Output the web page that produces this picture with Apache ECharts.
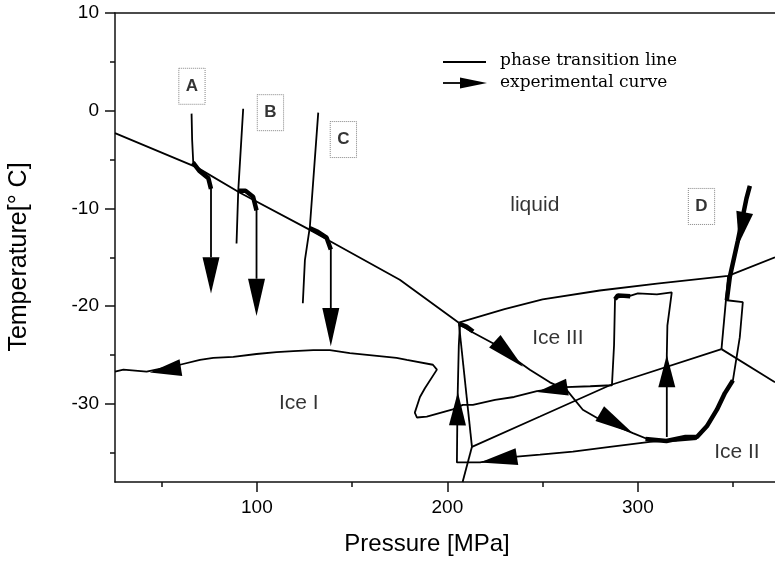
<!DOCTYPE html>
<html>
<head>
<meta charset="utf-8">
<script src="https://cdn.jsdelivr.net/npm/echarts@6/dist/echarts.min.js"></script>
<style>
html, body { margin: 0; padding: 0; background: #fff; }
#main { width: 775px; height: 561px; }
</style>
</head>
<body>
<div id="main"></div>
<script>
// axis ticks
var xMajor = [100, 200, 300];
var xMinor = [50, 150, 250, 350];
var yMajor = [-30, -20, -10, 0, 10];
var yMinor = [-35, -25, -15, -5, 5];

// phase transition lines [pressure MPa, temperature C]
var lineIceILiquid = [[25.5, -2.3], [68.5, -5.8], [91.1, -8.4], [127.8, -12.2], [175, -17.3], [206, -21.7]];
var lineIceIIILiquid = [[206, -21.7], [230, -20.3], [250, -19.3], [280, -18.4], [310, -17.7], [347.4, -16.9], [372, -15.0]];
var lineIceIIceIII = [[206, -21.7], [212.9, -34.4]];
var lineIceIIIceIII = [[212.9, -34.4], [248.6, -31.3], [285.3, -28.1], [343.9, -24.4]];
var lineIceIIceII = [[212.9, -34.4], [208, -38]];
var lineIceIIIceV = [[343.9, -24.4], [372, -27.8]];
var lineIceIIIIceV = [[343.9, -24.4], [347.4, -16.9]];

// experimental curves
var curveA = [[65.7, -0.3], [66.0, -3.0], [66.6, -5.4], [70.5, -6.3], [74.8, -7.0], [75.9, -8.0], [75.9, -15.0]];
var curveB1 = [[89.3, -13.6], [90.2, -8.2], [92.8, 0.2]];
var curveB2 = [[90.5, -8.3], [94, -8.3], [98, -8.8], [99.8, -10.0], [99.8, -17.2]];
var curveC1 = [[124.1, -19.7], [125.2, -15.3], [127.8, -11.9], [132.2, -0.2]];
var curveC2 = [[127.8, -12.0], [132, -12.4], [136.6, -13.1], [138.8, -14.2], [138.8, -20.2]];
var curveLoop = [[315.2, -33.4], [315.2, -25.0], [315.5, -22.0], [317.8, -18.6], [310, -18.8], [300, -18.7], [295, -19.0],
    [289.5, -19.1], [288, -19.3], [287.5, -24.0], [286.4, -28.1], [275, -28.2], [262.2, -28.3], [247, -28.7], [235, -29.3],
    [225, -29.6], [213.4, -30.1], [208.1, -30.1], [202.4, -30.6], [189.2, -31.3], [184, -31.4], [182.9, -30.9], [185.6, -29.3],
    [188.2, -28.4], [194.5, -26.5], [192.4, -26.0], [178.7, -25.5], [173.3, -25.3], [148.8, -24.8], [138.3, -24.5],
    [129.6, -24.5], [119.1, -24.6], [110.3, -24.7], [99.8, -24.9], [87.6, -25.2], [77.1, -25.3], [70.1, -25.5],
    [59.6, -26.0], [42.1, -26.7], [29.9, -26.5], [25.5, -26.7]];
var curveD = [[358.8, -7.7], [357, -9.0], [352.5, -13.3], [348.3, -17.0], [346.7, -19.4], [355.1, -19.6], [353.5, -23.2],
    [349.9, -27.6], [345.7, -28.9], [341.5, -30.6], [336.2, -32.3], [331, -33.5], [320, -33.7], [306.3, -33.9],
    [285.3, -34.4], [265.9, -34.9], [248.6, -35.2], [236.5, -35.4], [217.1, -36.0], [205, -36.0], [205.3, -30.0],
    [206, -24.0], [206.6, -21.9], [213.4, -22.7], [223.9, -23.8], [239.6, -26.0], [243.3, -26.5], [253.8, -27.8],
    [262.7, -28.6], [271.1, -30.6], [280, -31.6], [290, -32.4], [297.4, -33.0], [306.3, -33.7], [320, -33.8], [331, -33.6]];
// thick parts of the curves
var blobs = [
    [[66.4, -5.3], [70, -6.2], [74.5, -6.9], [75.9, -8.0]],
    [[90.3, -8.2], [94, -8.2], [98, -8.8], [99.8, -10.2]],
    [[127.6, -12.0], [132, -12.4], [136.6, -13.0], [138.8, -14.2]],
    [[206.3, -21.8], [210, -22.1], [213.5, -22.6]],
    [[304, -33.6], [315, -33.8], [325, -33.4], [331, -33.4], [336.2, -32.3], [341.5, -30.6], [345.7, -28.9], [349.9, -27.6]],
    [[288, -19.3], [289.5, -18.9], [296, -19.0]],
    [[358.8, -7.7], [357, -9.0], [352.5, -13.3], [348.3, -17.0], [346.7, -19.4]]
];
// arrow heads [base P, base T, tip P, tip T]
var arrows = [
    [75.9, -15.0, 75.9, -18.7],
    [99.8, -17.2, 99.8, -21.0],
    [138.8, -20.2, 138.8, -24.1],
    [60.1, -26.3, 43.8, -26.8],
    [315.2, -28.3, 315.2, -25.0],
    [263, -28.3, 247, -28.8],
    [205.3, -32.2, 205.5, -28.8],
    [224.9, -23.6, 239.6, -26.2],
    [280, -31.0, 297.4, -33.0],
    [236.5, -35.4, 217.1, -36.0],
    [356.1, -10.4, 353.0, -13.6]
];

var regionNames = ['liquid', 'Ice III', 'Ice I', 'Ice II'];
var regionAt = [[245.9, -9.65], [258, -23.3], [122, -29.9], [352, -35.0]];
var boxNames = ['A', 'B', 'C', 'D'];
var boxAt = [[65.9, 2.5], [107.1, -0.2], [145.4, -2.95], [333.4, -9.8]];

var font = "'Liberation Sans', Arial, sans-serif";

function lineSeries(data, width) {
    return {
        type: 'line', data: data, symbol: 'none', silent: true, animation: false,
        lineStyle: {color: '#000', width: width}
    };
}

var series = [];
[lineIceILiquid, lineIceIIILiquid, lineIceIIceIII, lineIceIIIceIII, lineIceIIceII, lineIceIIIceV, lineIceIIIIceV].forEach(function (d) {
    series.push(lineSeries(d, 1.8));
});
[curveA, curveB1, curveB2, curveC1, curveC2, curveLoop, curveD].forEach(function (d) {
    series.push(lineSeries(d, 1.8));
});
blobs.forEach(function (d) {
    series.push(lineSeries(d, 4.5));
});
// arrow heads drawn through the axes
series.push({
    type: 'custom', silent: true, animation: false,
    data: arrows,
    encode: {x: [0, 2], y: [1, 3]},
    renderItem: function (params, api) {
        var b = api.coord([api.value(0), api.value(1)]);
        var t = api.coord([api.value(2), api.value(3)]);
        var dx = t[0] - b[0], dy = t[1] - b[1];
        var len = Math.sqrt(dx * dx + dy * dy) || 1;
        var nx = -dy / len * 8.5, ny = dx / len * 8.5;
        return {
            type: 'polygon',
            shape: {points: [t, [b[0] + nx, b[1] + ny], [b[0] - nx, b[1] - ny]]},
            style: {fill: '#000'}
        };
    }
});
// phase names
series.push({
    type: 'scatter', symbolSize: 0, silent: true, animation: false,
    data: regionNames.map(function (n, i) { return {name: n, value: regionAt[i]}; }),
    label: {show: true, position: 'inside', formatter: '{b}', color: '#000', fontSize: 21, fontFamily: font}
});
// curve letters in dotted boxes
series.push({
    type: 'scatter', symbolSize: 0, silent: true, animation: false,
    data: boxNames.map(function (n, i) { return {name: n, value: boxAt[i]}; }),
    label: {
        show: true, position: 'inside', formatter: '{b}', color: '#000', fontSize: 17, fontWeight: 'bold',
        fontFamily: font, padding: [10, 7, 9, 7], borderColor: '#666', borderWidth: 1, borderType: 'dotted'
    }
});

var axisCommon = {
    type: 'value',
    splitLine: {show: false}
};

var option = {
    backgroundColor: '#fff',
    animation: false,
    grid: {left: 115, right: 0, top: 13, bottom: 79, containLabel: false, outerBoundsMode: 'none'},
    xAxis: [
        Object.assign({}, axisCommon, {
            min: 25.5, max: 372, position: 'bottom',
            axisLine: {show: true, onZero: false, lineStyle: {color: '#111', width: 1.5}},
            axisTick: {show: true, customValues: xMajor, length: 10, lineStyle: {color: '#111', width: 1.5}},
            axisLabel: {customValues: xMajor, color: '#000', fontSize: 19, fontFamily: font, margin: 16}
        }),
        Object.assign({}, axisCommon, {
            min: 25.5, max: 372, position: 'bottom',
            axisLine: {show: false, onZero: false},
            axisTick: {show: true, customValues: xMinor, length: 5, lineStyle: {color: '#111', width: 1.5}},
            axisLabel: {show: false}
        }),
        Object.assign({}, axisCommon, {
            min: 25.5, max: 372, position: 'top',
            axisLine: {show: true, onZero: false, lineStyle: {color: '#111', width: 1.5}},
            axisTick: {show: false},
            axisLabel: {show: false}
        })
    ],
    yAxis: [
        Object.assign({}, axisCommon, {
            min: -38, max: 10, position: 'left',
            axisLine: {show: true, onZero: false, lineStyle: {color: '#111', width: 1.5}},
            axisTick: {show: true, customValues: yMajor, length: 10, lineStyle: {color: '#111', width: 1.5}},
            axisLabel: {customValues: yMajor, color: '#000', fontSize: 19, fontFamily: font, margin: 16}
        }),
        Object.assign({}, axisCommon, {
            min: -38, max: 10, position: 'left',
            axisLine: {show: false, onZero: false},
            axisTick: {show: true, customValues: yMinor, length: 5, lineStyle: {color: '#111', width: 1.5}},
            axisLabel: {show: false}
        })
    ],
    graphic: [
        {type: 'line', shape: {x1: 443, y1: 62, x2: 486, y2: 62}, style: {stroke: '#000', lineWidth: 1.8}},
        {type: 'text', x: 500, y: 61, style: {text: 'phase transition line', fill: '#000', font: "17px 'DejaVu Serif', serif", textVerticalAlign: 'middle'}},
        {type: 'line', shape: {x1: 443, y1: 83, x2: 466, y2: 83}, style: {stroke: '#000', lineWidth: 1.8}},
        {type: 'polygon', shape: {points: [[487, 83], [460, 77.5], [460, 88.5]]}, style: {fill: '#000'}},
        {type: 'text', x: 500, y: 83, style: {text: 'experimental curve', fill: '#000', font: "17px 'DejaVu Serif', serif", textVerticalAlign: 'middle'}},
        {type: 'text', x: 427, y: 544, style: {text: 'Pressure [MPa]', fill: '#000', font: "24px 'Liberation Sans', Arial, sans-serif", textAlign: 'center', textVerticalAlign: 'middle'}},
        {type: 'text', x: 19, y: 257, rotation: Math.PI / 2, style: {text: 'Temperature[° C]', fill: '#000', font: "25px 'Liberation Sans', Arial, sans-serif", textAlign: 'center', textVerticalAlign: 'middle'}}
    ],
    series: series
};

var chart = echarts.init(document.getElementById('main'), null, {renderer: 'canvas'});
chart.setOption(option);
</script>
</body>
</html>
